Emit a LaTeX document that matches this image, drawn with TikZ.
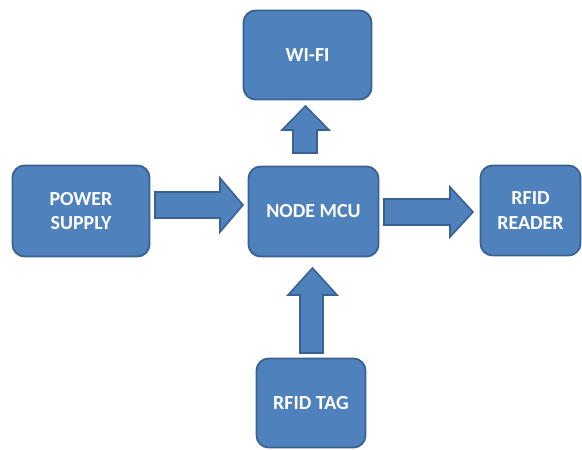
\documentclass[tikz,border=0pt]{standalone}
\usepackage{fontspec}
\setmainfont{Carlito}
\definecolor{boxfill}{HTML}{4F81BD}
\definecolor{boxline}{HTML}{3A6190}
\tikzset{
  blockbox/.style={draw=boxline, fill=boxfill, line width=1.8bp, rounded corners=12bp,
    text=white, font=\fontsize{20}{25}\selectfont\bfseries, align=center, inner sep=0pt},
  blockarrow/.style={draw=boxline, fill=boxfill, line width=1.6bp, line join=miter}
}
\begin{document}
\begin{tikzpicture}[x=1bp,y=-1bp]
\useasboundingbox (0,0) rectangle (582,450);
\node[blockbox, minimum width=137bp, minimum height=91bp] (ps) at (81,211) {POWER\\SUPPLY};
\node[blockbox, minimum width=130bp, minimum height=90bp] (mcu) at (313.5,211.5) {NODE MCU};
\node[blockbox, minimum width=128bp, minimum height=89bp] (wifi) at (307.5,55) {WI-FI};
\node[blockbox, minimum width=100bp, minimum height=90bp] (reader) at (530.5,210.5) {RFID\\READER};
\node[blockbox, minimum width=109bp, minimum height=89bp] (tag) at (311,403) {RFID TAG};
% block arrows
\draw[blockarrow] (155,192) -- (220,192) -- (220,178) -- (243,205) -- (220,232) -- (220,218) -- (155,218) -- cycle;
\draw[blockarrow] (384,199) -- (450,199) -- (450,187) -- (473,212) -- (450,237) -- (450,225) -- (384,225) -- cycle;
\draw[blockarrow] (293,153) -- (293,130) -- (282,130) -- (305.5,106) -- (329,130) -- (317,130) -- (317,153) -- cycle;
\draw[blockarrow] (300,353) -- (300,295) -- (288,295) -- (312.5,268) -- (337,295) -- (323,295) -- (323,353) -- cycle;
\end{tikzpicture}
\end{document}
